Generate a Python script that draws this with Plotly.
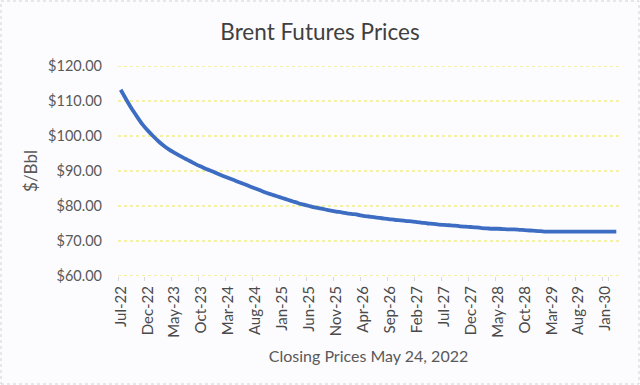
import plotly.graph_objects as go

months = [
    "Jul-22", "Aug-22", "Sep-22", "Oct-22", "Nov-22", "Dec-22",
    "Jan-23", "Feb-23", "Mar-23", "Apr-23", "May-23", "Jun-23", "Jul-23", "Aug-23", "Sep-23", "Oct-23", "Nov-23", "Dec-23",
    "Jan-24", "Feb-24", "Mar-24", "Apr-24", "May-24", "Jun-24", "Jul-24", "Aug-24", "Sep-24", "Oct-24", "Nov-24", "Dec-24",
    "Jan-25", "Feb-25", "Mar-25", "Apr-25", "May-25", "Jun-25", "Jul-25", "Aug-25", "Sep-25", "Oct-25", "Nov-25", "Dec-25",
    "Jan-26", "Feb-26", "Mar-26", "Apr-26", "May-26", "Jun-26", "Jul-26", "Aug-26", "Sep-26", "Oct-26", "Nov-26", "Dec-26",
    "Jan-27", "Feb-27", "Mar-27", "Apr-27", "May-27", "Jun-27", "Jul-27", "Aug-27", "Sep-27", "Oct-27", "Nov-27", "Dec-27",
    "Jan-28", "Feb-28", "Mar-28", "Apr-28", "May-28", "Jun-28", "Jul-28", "Aug-28", "Sep-28", "Oct-28", "Nov-28", "Dec-28",
    "Jan-29", "Feb-29", "Mar-29", "Apr-29", "May-29", "Jun-29", "Jul-29", "Aug-29", "Sep-29", "Oct-29", "Nov-29", "Dec-29",
    "Jan-30", "Feb-30", "Mar-30",
]

prices = [
    113.2, 110.5, 107.9, 105.6, 103.4, 101.6,
    100.0, 98.5, 97.2, 96.1, 95.2, 94.3, 93.5, 92.7, 91.9, 91.2, 90.5, 89.9,
    89.2, 88.6, 88.0, 87.4, 86.8, 86.2, 85.6, 85.0, 84.4, 83.8, 83.3, 82.8,
    82.3, 81.8, 81.3, 80.8, 80.4, 80.0, 79.6, 79.3, 79.0, 78.7, 78.4, 78.2,
    77.9, 77.7, 77.5, 77.2, 77.0, 76.8, 76.6, 76.4, 76.2, 76.0, 75.9, 75.7,
    75.6, 75.4, 75.2, 75.0, 74.9, 74.7, 74.6, 74.5, 74.4, 74.2, 74.1, 74.0,
    73.9, 73.7, 73.6, 73.5, 73.5, 73.4, 73.3, 73.3, 73.2, 73.1, 73.0, 72.9,
    72.8, 72.7, 72.7, 72.7, 72.7, 72.7, 72.7, 72.7, 72.7, 72.7, 72.7, 72.7,
    72.7, 72.7, 72.7,
]

y_ticks = [60, 70, 80, 90, 100, 110, 120]

title_text = "Brent Futures Prices"
x_title = "Closing Prices May 24, 2022"
y_title = "$/Bbl"

FONT = "Lato"
TXT = "#595959"
GRID = "#ebe64a"

fig = go.Figure()
fig.add_trace(go.Scatter(
    x=months, y=prices, mode="lines",
    line=dict(color="#3d6dc2", width=3.8, shape="spline", smoothing=0.6),
    showlegend=False, hoverinfo="skip",
))

fig.update_layout(
    width=640, height=385,
    margin=dict(l=118, r=21, t=66, b=109, autoexpand=False),
    paper_bgcolor="#fcfcfe", plot_bgcolor="#fcfcfe",
    font=dict(family=FONT, color=TXT, size=15),
    title=dict(text=title_text, x=0.5, xanchor="center", y=1 - 32 / 385, yanchor="middle",
               font=dict(family=FONT, size=22.5, color="#404040")),
)

fig.update_xaxes(
    type="category", categoryorder="array", categoryarray=months,
    range=[-0.5, len(months) - 0.5], automargin=False,
    tickmode="array", tickvals=months[::5], ticktext=months[::5],
    tickson="boundaries", ticks="outside", ticklen=4, tickcolor="#d9d9d9",
    tickangle=-90, tickfont=dict(size=15, color="#4a4a4a"), ticklabelstandoff=6,
    showgrid=False, showline=False, zeroline=False,
    title=dict(text=x_title, font=dict(size=16, color=TXT), standoff=14),
)

fig.update_yaxes(
    range=[60, 120], tickmode="array", tickvals=y_ticks, tickformat="$,.2f", automargin=False,
    showgrid=False, showline=False, zeroline=False, ticks="",
    tickfont=dict(size=14.5, color=TXT), ticklabelstandoff=15,
    title=dict(text=y_title, font=dict(size=17, color=TXT), standoff=6),
)

for v in y_ticks:
    fig.add_shape(type="line", xref="paper", yref="y", x0=0, x1=1, y0=v, y1=v,
                  line=dict(color=GRID, width=1, dash="dot"), layer="below")

fig.add_shape(type="rect", xref="paper", yref="paper",
              x0=-117 / 501, x1=1 + 20 / 501, y0=-108 / 210, y1=1 + 65 / 210,
              line=dict(color="#d0d0d8", width=1, dash="dot"), layer="below")

fig.write_html("out.html", config={"displayModeBar": False},
               post_script="document.body.style.margin='0';document.body.style.background='#fcfcfe';")
